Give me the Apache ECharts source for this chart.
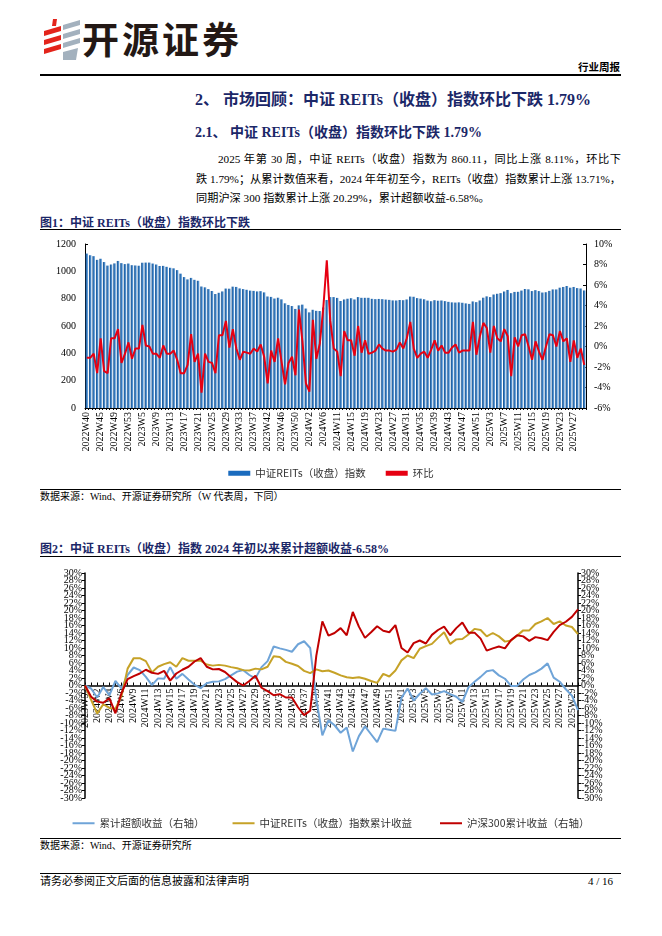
<!DOCTYPE html>
<html><head><meta charset="utf-8">
<script src="https://cdn.jsdelivr.net/npm/echarts@6/dist/echarts.min.js"></script>
<style>
body{margin:0;background:#fff;}
#page{position:relative;width:662px;height:936px;overflow:hidden;font-family:"Liberation Serif","Noto Sans CJK SC",serif;color:#000;background:#fff;}
.abs{position:absolute;white-space:nowrap;line-height:1;}
.hr{position:absolute;left:40px;width:581px;background:#000;}
.navy{color:#1B2768;font-weight:bold;}
.just{position:absolute;line-height:1;text-align:justify;text-align-last:justify;white-space:nowrap;}
</style></head>
<body><div id="page">
<svg style="position:absolute;left:44px;top:19px" width="36" height="42" viewBox="0 0 36 42">
<g fill="#E3241B">
<polygon points="9,0 13,0 12,7 8,7"/>
<polygon points="0,12 17,7 17,12 0,17"/>
<polygon points="0,21 17,16 17,21 0,26"/>
<polygon points="0,30 17,25 17,30 0,35"/>
</g>
<g fill="#A3B1BE">
<polygon points="19,6 36,1 36,6 19,11"/>
<polygon points="19,15 36,10 36,15 19,20"/>
<polygon points="19,24 36,19 36,24 19,29"/>
<polygon points="19,33 34,29 32,41 19,41"/>
</g></svg>
<div class="abs" style="left:82px;top:20px;font-family:'Noto Sans CJK SC';font-weight:bold;font-size:37px;letter-spacing:3px;color:#231815">开源证券</div>
<div class="abs" style="left:578px;top:62px;font-family:'Noto Sans CJK SC';font-weight:bold;font-size:10.5px">行业周报</div>
<div class="hr" style="top:74px;height:1.5px"></div>
<div class="abs navy" style="left:195px;top:92px;font-size:16px">2、 市场回顾：中证 REITs（收盘）指数环比下跌 1.79%</div>
<div class="abs navy" style="left:195px;top:126px;font-size:14px">2.1、 中证 REITs（收盘）指数环比下跌 1.79%</div>
<div class="just" style="left:218px;top:154px;width:403px;font-size:11.2px">2025 年第 30 周，中证 REITs（收盘）指数为 860.11，同比上涨 8.11%，环比下</div>
<div class="just" style="left:196px;top:174px;width:425px;font-size:11.2px">跌 1.79%；从累计数值来看，2024 年年初至今，REITs（收盘）指数累计上涨 13.71%，</div>
<div class="abs" style="left:196px;top:193px;font-size:11.2px">同期沪深 300 指数累计上涨 20.29%，累计超额收益-6.58%。</div>
<div class="abs navy" style="left:40px;top:217px;font-size:12px">图1：中证 REITs（收盘）指数环比下跌</div>
<div class="hr" style="top:229px;height:1px"></div>
<div id="c1" style="position:absolute;left:0;top:232px;width:662px;height:252px"></div>
<div class="hr" style="top:489px;height:1px"></div>
<div class="abs" style="left:40px;top:492px;font-size:10px">数据来源：Wind、开源证券研究所（W 代表周，下同）</div>
<div class="abs navy" style="left:40px;top:543px;font-size:12px">图2：中证 REITs（收盘）指数 2024 年初以来累计超额收益-6.58%</div>
<div class="hr" style="top:556px;height:1px"></div>
<div id="c2" style="position:absolute;left:0;top:562px;width:662px;height:272px"></div>
<div class="hr" style="top:838px;height:1px"></div>
<div class="abs" style="left:40px;top:841px;font-size:10px">数据来源：Wind、开源证券研究所</div>
<div class="hr" style="top:873px;height:1.2px"></div>
<div class="abs" style="left:40px;top:876px;font-size:11px">请务必参阅正文后面的信息披露和法律声明</div>
<div class="abs" style="left:588px;top:876px;font-size:11px">4 / 16</div>
</div>
<script>
// ---- data ----
const weeks1 = ("2022W40 2022W42 2022W43 2022W44 2022W45 2022W46 2022W47 2022W48 2022W49 2022W50 2022W51 2022W52 2022W53 " +
"2023W1 2023W2 2023W3 2023W5 2023W6 2023W7 2023W8 2023W9 2023W10 2023W11 2023W12 2023W13 2023W14 2023W15 2023W16 2023W17 2023W18 2023W19 2023W20 2023W21 2023W22 2023W23 2023W24 2023W25 2023W26 2023W27 2023W28 2023W29 2023W30 2023W31 2023W32 2023W33 2023W34 2023W35 2023W36 2023W37 2023W38 2023W39 2023W41 2023W42 2023W43 2023W44 2023W45 2023W46 2023W47 2023W48 2023W49 2023W50 2023W51 2023W52 " +
"2024W1 2024W2 2024W3 2024W4 2024W5 2024W6 2024W8 2024W9 2024W10 2024W11 2024W12 2024W13 2024W14 2024W15 2024W16 2024W17 2024W18 2024W19 2024W20 2024W21 2024W22 2024W23 2024W24 2024W25 2024W26 2024W27 2024W28 2024W29 2024W30 2024W31 2024W32 2024W33 2024W34 2024W35 2024W36 2024W37 2024W38 2024W39 2024W40 2024W41 2024W42 2024W43 2024W44 2024W45 2024W46 2024W47 2024W48 2024W49 2024W50 2024W51 2024W52 " +
"2025W1 2025W2 2025W3 2025W4 2025W5 2025W6 2025W7 2025W8 2025W9 2025W10 2025W11 2025W12 2025W13 2025W14 2025W15 2025W16 2025W17 2025W18 2025W19 2025W20 2025W21 2025W22 2025W23 2025W24 2025W25 2025W26 2025W27 2025W28 2025W29 2025W30").split(' ');

const reitsIndex = [1130,1118,1111,1084,1092,1068,1042,1050,1058,1076,1060,1053,1057,1045,1043,1041,1063,1064,1064,1057,1050,1039,1040,1033,1026,1022,1009,983,958,941,952,938,931,889,883,870,856,834,843,853,874,873,888,886,875,870,865,859,857,853,855,846,816,813,801,807,795,766,754,746,725,751,
756.4,727.7,699.7,718.6,711.0,709.5,735.2,790.4,811.6,811.6,805.6,782.9,794.2,799.5,803.3,794.2,811.6,806.3,806.3,806.3,798.8,796.5,798.0,796.5,793.5,791.2,787.4,786.7,790.4,788.9,794.2,815.4,813.9,804.1,800.3,795.7,785.9,781.4,788.9,785.1,786.7,782.1,776.8,773.0,771.5,773.0,770.0,765.5,761.7,779.8,774.6,786.7,807.1,816.9,811.6,830.5,835.8,840.4,852.5,863.8,840.4,849.4,850.2,859.3,870.6,868.3,855.5,862.3,855.5,844.9,847.2,857.0,867.6,867.6,880.4,885.7,892.6,880.4,885.7,877.4,874.4,860.11];

const weeklyChange = [-1.1,-1.1,-0.7,-2.6,0.8,-2.4,-2.6,0.8,0.8,1.7,-1.6,-0.7,0.4,-1.2,-0.2,-0.2,2.1,0.1,0.0,-0.7,-0.7,-1.1,0.1,-0.7,-0.7,-0.4,-1.3,-2.6,-2.6,-1.8,1.2,-1.5,-0.7,-4.5,-0.7,-1.5,-1.6,-2.6,1.1,1.1,2.5,-0.1,1.7,-0.2,-1.3,-0.5,-0.6,-0.7,-0.2,-0.5,0.2,-1.0,-3.6,-0.4,-1.5,0.8,-1.5,-3.7,-1.6,-1.0,-2.8,3.6,0.5,-3.6,-4.4,2.6,-1.2,0.3,3.8,8.4,2.5,-0.2,-0.5,-2.9,1.5,0.6,0.6,-0.9,2.0,-0.6,0.6,-0.7,-0.6,-0.4,0.2,-0.2,-0.4,-0.4,-0.5,-0.3,0.4,-0.2,0.8,2.4,-0.2,-1.1,-0.7,-0.5,-1.1,-0.3,0.6,-0.4,0.1,-0.6,-0.6,-0.1,0.2,-0.6,-0.4,-0.4,-0.4,2.4,-0.8,1.0,2.3,1.8,-0.6,2.0,0.8,0.5,1.7,1.0,-2.9,0.9,0.0,1.1,1.2,0.0,-1.3,0.5,-0.5,-1.3,0.0,1.2,1.1,0.0,1.5,0.5,0.8,-1.5,0.6,-1.1,-0.2,-1.79];

const weeks2 = weeks1.slice(62); // 2023W52 .. 2025W30

const excessReturn = [0,-0.8,-3.2,-0.4,-2.6,1.2,-0.8,2.8,4.8,4.1,2.3,0.1,1.9,1.8,4.9,1.8,3.1,1.6,0.2,-0.7,0.6,1.0,1.1,1.7,2.7,3.7,4.1,2.8,1.9,4.9,6.5,10.4,9.9,9.5,9.0,11.0,11.8,10.0,-3.6,-13.3,-9.3,-10.6,-12.6,-11.2,-17.6,-13.5,-10.9,-13.0,-15.1,-11.5,-11.8,-12.1,-3.3,-0.8,-4.0,-2.2,-0.7,-2.4,-2.1,-1.5,-2.3,-3.0,-4.4,-0.5,1.0,2.3,3.8,4.1,2.7,1.8,-0.1,-0.1,1.6,2.8,3.5,4.5,5.9,2.1,1.0,-1.0,-2.7,-6.58];

const reitsCum = [0,-3.8,-7.5,-5.0,-6.0,-6.2,-2.8,4.5,7.3,7.3,6.5,3.5,5.0,5.7,6.2,5.0,7.3,6.6,6.6,6.6,5.6,5.3,5.5,5.3,4.9,4.6,4.1,4.0,4.5,4.3,5.0,7.8,7.6,6.3,5.8,5.2,3.9,3.3,4.3,3.8,4.0,3.4,2.7,2.2,2.0,2.2,1.8,1.2,0.7,3.1,2.4,4.0,6.7,8.0,7.3,9.8,10.5,11.1,12.7,14.2,11.1,12.3,12.4,13.6,15.1,14.8,13.1,14.0,13.1,11.7,12.0,13.3,14.7,14.7,16.4,17.1,18.0,16.4,17.1,16.0,15.6,13.71];

const hs300Cum = [0,-3.0,-4.3,-4.6,-3.4,-7.4,-2.0,1.7,2.5,3.2,4.2,3.4,3.1,3.9,1.3,3.2,4.2,5.0,6.4,7.3,5.0,4.3,4.4,3.6,2.2,0.9,0.0,1.2,2.6,-0.6,-1.5,-2.6,-2.3,-3.2,-3.2,-5.8,-7.9,-6.7,7.9,17.1,13.3,14.0,15.3,13.4,19.6,15.7,12.7,14.2,15.8,14.6,14.2,16.1,10.0,8.8,11.3,12.0,11.2,13.5,14.8,15.7,13.4,15.3,16.8,14.1,14.1,12.5,9.3,9.9,10.4,9.9,12.1,13.4,13.1,11.9,12.9,12.6,12.1,14.3,16.1,17.0,18.3,20.29];

// ---- charts ----
const SERIF = '"Liberation Serif","Noto Sans CJK SC",serif';
const CJK = '"Noto Sans CJK SC","Liberation Serif",sans-serif';

const c1 = echarts.init(document.getElementById('c1'));
c1.setOption({
  animation: false,
  textStyle: {fontFamily: SERIF},
  grid: {left: 85, right: 76, top: 12, height: 164, outerBoundsMode: 'none'},
  legend: {
    top: 231, left: 'center', itemWidth: 22, itemHeight: 5, itemGap: 20,
    textStyle: {fontSize: 10.5, color: '#333', fontFamily: CJK},
    data: [{name: '中证REITs（收盘）指数', icon: 'rect', itemStyle: {color: '#1A6BBE'}}, {name: '环比', icon: 'rect'}]
  },
  xAxis: {
    type: 'category', data: weeks1,
    axisLine: {lineStyle: {color: '#000', width: 1}},
    axisTick: {show: true, interval: 0, length: 2, lineStyle: {color: '#000'}},
    axisLabel: {interval: 3, rotate: 90, fontSize: 10, color: '#000', margin: 4, fontFamily: SERIF}
  },
  yAxis: [{
    type: 'value', min: 0, max: 1200, interval: 200, position: 'left',
    axisLine: {show: true, lineStyle: {color: '#000'}},
    axisTick: {show: true, inside: true, length: 3, lineStyle: {color: '#000'}},
    splitLine: {show: false},
    axisLabel: {fontSize: 10, color: '#000', margin: 9, fontFamily: SERIF, formatter: function (v) { return String(v); }, showMinLabel: true, showMaxLabel: true}
  }, {
    type: 'value', min: -6, max: 10, interval: 2, position: 'right',
    axisLine: {show: true, lineStyle: {color: '#000'}},
    axisTick: {show: true, inside: true, length: 3, lineStyle: {color: '#000'}},
    splitLine: {show: false},
    axisLabel: {fontSize: 10, color: '#000', margin: 8, formatter: '{value}%', fontFamily: SERIF, showMinLabel: true, showMaxLabel: true}
  }],
  series: [{
    name: '中证REITs（收盘）指数', type: 'bar', data: reitsIndex, barCategoryGap: '28%',
    itemStyle: {color: new echarts.graphic.LinearGradient(0, 0, 1, 0, [
      {offset: 0, color: '#114A86'}, {offset: 0.5, color: '#3479BF'}, {offset: 1, color: '#7FB2E2'}])}
  }, {
    name: '环比', type: 'line', yAxisIndex: 1, data: weeklyChange, symbol: 'none',
    lineStyle: {color: '#E60012', width: 2}, itemStyle: {color: '#E60012'}
  }]
});

const c2 = echarts.init(document.getElementById('c2'));
const GRID2_H = 225;
const yMain = {
  type: 'value', min: -30, max: 30, interval: 2,
  axisLine: {show: true, onZero: false, lineStyle: {color: '#000', width: 1.5}},
  axisTick: {show: true, length: 3, lineStyle: {color: '#000'}},
  splitLine: {show: false},
  axisLabel: {fontSize: 10, color: '#000', margin: 3, formatter: '{value}%', fontFamily: SERIF, showMinLabel: false, showMaxLabel: false, hideOverlap: false}
};
// end labels (30% / -30%) drawn by a companion axis so the cramped neighbours are not dropped
const yEnds = {
  type: 'value', min: -30, max: 30, interval: 30,
  axisLine: {show: false, onZero: false},
  axisTick: {show: true, length: 3, lineStyle: {color: '#000'}},
  splitLine: {show: false},
  axisLabel: {fontSize: 10, color: '#000', margin: 3, fontFamily: SERIF, showMinLabel: true, showMaxLabel: true,
    formatter: function (v) { return v === 0 ? '' : v + '%'; }}
};
c2.setOption({
  animation: false,
  textStyle: {fontFamily: SERIF},
  grid: {left: 85, right: 84, top: 11, height: GRID2_H, outerBoundsMode: 'none'},
  legend: {
    top: 251, left: 'center', itemWidth: 22, itemHeight: 2, itemGap: 28,
    textStyle: {fontSize: 10.5, color: '#333', fontFamily: CJK},
    data: [{name: '累计超额收益（右轴）', icon: 'rect'}, {name: '中证REITs（收盘）指数累计收益', icon: 'rect'}, {name: '沪深300累计收益（右轴）', icon: 'rect'}]
  },
  xAxis: {
    type: 'category', data: weeks2, boundaryGap: false, position: 'bottom', offset: -GRID2_H / 2,
    axisLine: {onZero: false, lineStyle: {color: '#000', width: 1.5}},
    axisTick: {show: true, interval: 0, inside: true, length: 3, lineStyle: {color: '#000'}},
    axisLabel: {interval: 1, rotate: 90, fontSize: 10, color: '#000', margin: 3, fontFamily: SERIF}
  },
  yAxis: [
    Object.assign({}, yMain, {position: 'left'}),
    Object.assign({}, yMain, {position: 'right'}),
    Object.assign({}, yEnds, {position: 'left'}),
    Object.assign({}, yEnds, {position: 'right'})
  ],
  series: [{
    name: '累计超额收益（右轴）', type: 'line', yAxisIndex: 1, data: excessReturn, symbol: 'none',
    lineStyle: {color: '#6FA4D8', width: 2}, itemStyle: {color: '#6FA4D8'}
  }, {
    name: '中证REITs（收盘）指数累计收益', type: 'line', yAxisIndex: 0, data: reitsCum, symbol: 'none',
    lineStyle: {color: '#C6A227', width: 2}, itemStyle: {color: '#C6A227'}
  }, {
    name: '沪深300累计收益（右轴）', type: 'line', yAxisIndex: 1, data: hs300Cum, symbol: 'none',
    lineStyle: {color: '#C00000', width: 2}, itemStyle: {color: '#C00000'}
  }]
});
</script>
</body></html>
